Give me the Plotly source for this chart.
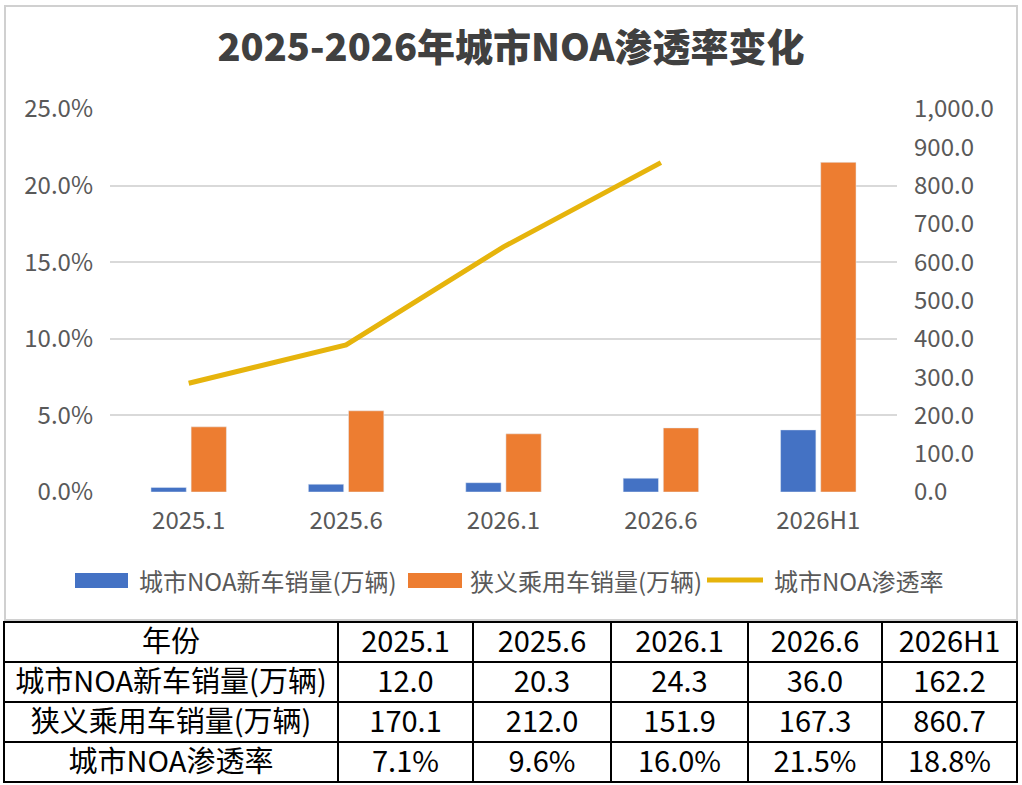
import plotly.graph_objects as go

# 数据
years = ["2025.1", "2025.6", "2026.1", "2026.6", "2026H1"]
noa_sales = [12.0, 20.3, 24.3, 36.0, 162.2]        # 城市NOA新车销量(万辆)
car_sales = [170.1, 212.0, 151.9, 167.3, 860.7]    # 狭义乘用车销量(万辆)
noa_rate = [7.1, 9.6, 16.0, 21.5, 18.8]            # 城市NOA渗透率 %
row_names = ["城市NOA新车销量(万辆)", "狭义乘用车销量(万辆)", "城市NOA渗透率"]
colors = ["#4472C4", "#ED7D31", "#E6B40C"]

W, H = 1022, 785
FONT = "Noto Sans CJK SC"
GREY = "#595959"


def px(x):   # 像素 -> paper x
    return x / W


def py(y):   # 像素(从上往下) -> paper y
    return 1 - y / H


fig = go.Figure()
fig.add_trace(go.Bar(x=years, y=noa_sales, name=row_names[0],
                     marker_color=colors[0], yaxis="y2"))
fig.add_trace(go.Bar(x=years, y=car_sales, name=row_names[1],
                     marker_color=colors[1], yaxis="y2"))
# 折线只画到2026.6
fig.add_trace(go.Scatter(x=years[:4], y=noa_rate[:4], name=row_names[2],
                         mode="lines", line=dict(color=colors[2], width=5)))

cells = [row_names] + [[f"{noa_sales[i]:.1f}", f"{car_sales[i]:.1f}", f"{noa_rate[i]:.1f}%"]
                       for i in range(len(years))]
fig.add_trace(go.Table(
    domain=dict(x=[px(4), px(1017)], y=[0, py(622)]),
    columnwidth=[334, 135, 138, 137, 134, 135],
    header=dict(values=["年份"] + years, height=40, align="center",
                fill_color="white", line=dict(color="black", width=1.5),
                font=dict(family=FONT, size=29, color="black")),
    cells=dict(values=cells, height=40, align="center",
               fill_color="white", line=dict(color="black", width=1.5),
               font=dict(family=FONT, size=29, color="black")),
))

# 自绘图例（宽色块）
shapes = [dict(type="rect", xref="paper", yref="paper",
               x0=px(5), x1=px(1017), y0=py(620), y1=py(6),
               line=dict(color="#D0D0D0", width=2), layer="below")]
annotations = []
legend_items = [(75, 128, 137), (408, 462, 468), (707, 763, 772)]
for i, (x0, x1, tx) in enumerate(legend_items):
    if i < 2:
        shapes.append(dict(type="rect", xref="paper", yref="paper",
                           x0=px(x0), x1=px(x1), y0=py(588), y1=py(573),
                           fillcolor=colors[i], line=dict(width=0)))
    else:
        shapes.append(dict(type="line", xref="paper", yref="paper",
                           x0=px(x0), x1=px(x1), y0=py(580), y1=py(580),
                           line=dict(color=colors[i], width=5)))
    annotations.append(dict(text=row_names[i], xref="paper", yref="paper",
                            x=px(tx), y=py(580), xanchor="left", yanchor="middle",
                            showarrow=False, font=dict(size=24, color=GREY)))

fig.update_layout(
    width=W, height=H,
    margin=dict(l=0, r=0, t=0, b=0, autoexpand=False),
    paper_bgcolor="white", plot_bgcolor="white",
    font=dict(family=FONT, color=GREY),
    showlegend=False,
    title=dict(text="2025-2026年城市NOA渗透率变化", x=0.5, xanchor="center",
               y=py(48), yanchor="middle",
               font=dict(family=FONT, size=38, color="#404040", weight=900)),
    barmode="group", bargap=0.49, bargroupgap=0.12,
    xaxis=dict(domain=[px(110), px(897)], showgrid=False, showline=False,
               tickfont=dict(size=24, color=GREY), ticklabelstandoff=12),
    yaxis=dict(domain=[py(492), py(109)], range=[0, 25], dtick=5,
               ticksuffix="%", tickformat=".1f", showgrid=True,
               gridcolor="#D9D9D9", gridwidth=1.5, zeroline=False,
               tickfont=dict(size=24, color=GREY), ticklabelstandoff=16),
    yaxis2=dict(overlaying="y", side="right", range=[0, 1000], dtick=100,
                tickformat=",.1f", showgrid=False, zeroline=False,
                tickfont=dict(size=24, color=GREY), ticklabelstandoff=16),
    shapes=shapes,
    annotations=annotations,
)

fig.write_html("out.html", config={"displayModeBar": False},
               post_script="document.body.style.margin='0';document.body.style.overflow='hidden';")
